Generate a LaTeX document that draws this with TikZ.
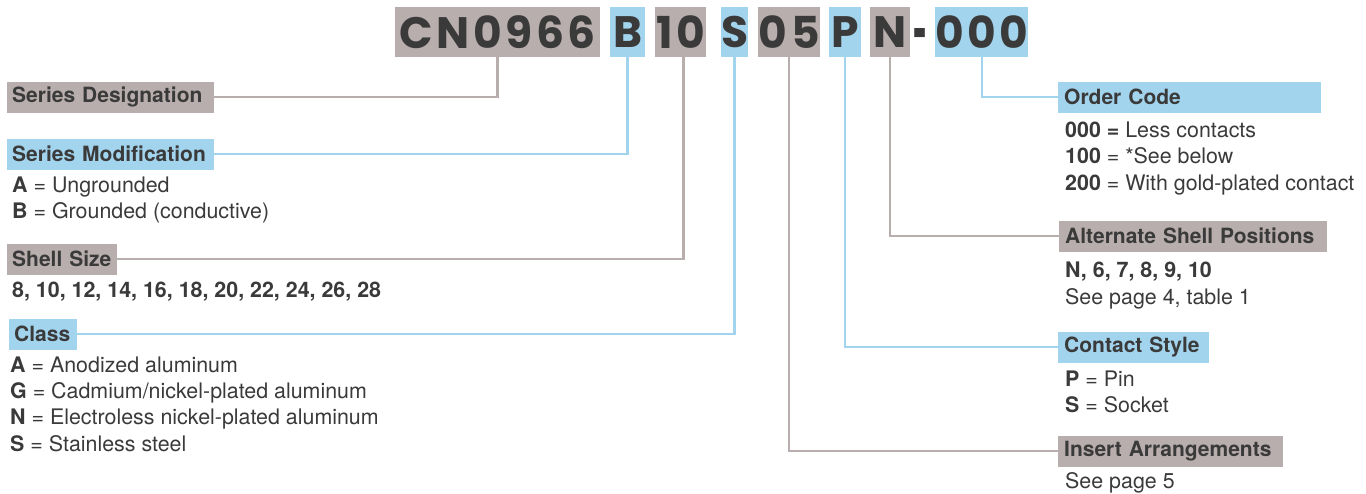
\documentclass[tikz,border=0pt]{standalone}
\usepackage{fontspec}
\setmainfont{TeX Gyre Heros}
\newfontfamily\codefont[LetterSpace=8]{Poppins}
\newfontfamily\dashfont{Poppins}
\definecolor{gbox}{HTML}{B8AEAD}
\definecolor{bbox}{HTML}{A3D4EE}
\definecolor{txt}{HTML}{3A3A3A}
\tikzset{
  codebox/.style={anchor=north west, inner sep=0pt, minimum height=50pt,
    font=\codefont\bfseries\fontsize{44}{44}\selectfont, text=txt},
  labbox/.style={anchor=west, inner xsep=5pt, inner ysep=0pt, minimum height=31pt,
    font=\bfseries\fontsize{21}{21}\selectfont, text=txt, align=left},
  desc/.style={anchor=base west, inner sep=0pt, font=\fontsize{21.4}{21.4}\selectfont, text=txt},
  gline/.style={draw=gbox, line width=2.5pt},
  bline/.style={draw=bbox, line width=2.5pt}
}
\begin{document}
\begin{tikzpicture}[x=1pt,y=-1pt]
\useasboundingbox (0,0) rectangle (1366,493);
% code boxes
\node[codebox, fill=gbox, minimum width=205pt] (cn) at (395,7) {CN0966};
\node[codebox, fill=bbox, minimum width=35pt] (b) at (610,7) {B};
\node[codebox, fill=gbox, minimum width=51pt] (ten) at (655,7) {10};
\node[codebox, fill=bbox, minimum width=27pt] (s) at (721,7) {S};
\node[codebox, fill=gbox, minimum width=62pt] (zf) at (758,7) {05};
\node[codebox, fill=bbox, minimum width=32pt] (p) at (829,7) {P};
\node[codebox, fill=gbox, minimum width=40pt] (n) at (870,7) {N};
\node[inner sep=0pt, text=txt, font=\dashfont\bfseries\fontsize{40}{40}\selectfont] (dash) at (920,42) {\scalebox{0.6}[1.6]{-}};
\node[codebox, fill=bbox, minimum width=85pt] (ooo) at (935,7) {000};
% left labels
\node[labbox, fill=gbox, text width=197pt] (sd) at (7,97) {Series Designation};
\node[labbox, fill=bbox, text width=197pt] (sm) at (7,154) {Series Modification};
\node[desc] (sma) at (12,192) {\textbf{A} = Ungrounded};
\node[desc] (smb) at (12,218) {\textbf{B} = Grounded (conductive)};
\node[labbox, fill=gbox, text width=100pt] (ss) at (7,259) {Shell Size};
\node[desc] (ssv) at (12,297) {\textbf{8, 10, 12, 14, 16, 18, 20, 22, 24, 26, 28}};
\node[labbox, fill=bbox, text width=58pt] (cl) at (9,334) {Class};
\node[desc] (cla) at (10,372) {\textbf{A} = Anodized aluminum};
\node[desc] (clg) at (10,398) {\textbf{G} = Cadmium/nickel-plated aluminum};
\node[desc] (cln) at (10,424) {\textbf{N} = Electroless nickel-plated aluminum};
\node[desc] (cls) at (10,451) {\textbf{S} = Stainless steel};
% right labels
\node[labbox, fill=bbox, inner xsep=6pt, text width=251pt] (oc) at (1058,97) {Order Code};
\node[desc] (oca) at (1065,137) {\textbf{000 =} Less contacts};
\node[desc] (ocb) at (1065,163) {\textbf{100} = *See below};
\node[desc] (occ) at (1065,190) {\textbf{200} = With gold-plated contact};
\node[labbox, fill=gbox, inner xsep=6pt, text width=256pt] (asp) at (1059,236) {Alternate Shell Positions};
\node[desc] (aspa) at (1065,277) {\textbf{N, 6, 7, 8, 9, 10}};
\node[desc] (aspb) at (1065,304) {See page 4, table 1};
\node[labbox, fill=bbox, inner xsep=6pt, text width=139pt] (cs) at (1058,347) {Contact Style};
\node[desc] (csp) at (1065,386) {\textbf{P} = Pin};
\node[desc] (css) at (1065,412) {\textbf{S} = Socket};
\node[labbox, fill=gbox, inner xsep=6pt, text width=213pt] (ia) at (1058,451) {Insert Arrangements};
\node[desc] (iaa) at (1065,488) {See page 5};
% connectors
\draw[gline] (cn.south) |- (sd.east);
\draw[bline] (b.south) |- (sm.east);
\draw[gline] ([xshift=3pt]ten.south) |- (ss.east);
\draw[bline] (s.south) |- (cl.east);
\draw[gline] (zf.south) |- (ia.west);
\draw[bline] (p.south) |- (cs.west);
\draw[gline] (n.south) |- (asp.west);
\draw[bline] (ooo.south) |- (oc.west);
\end{tikzpicture}
\end{document}
